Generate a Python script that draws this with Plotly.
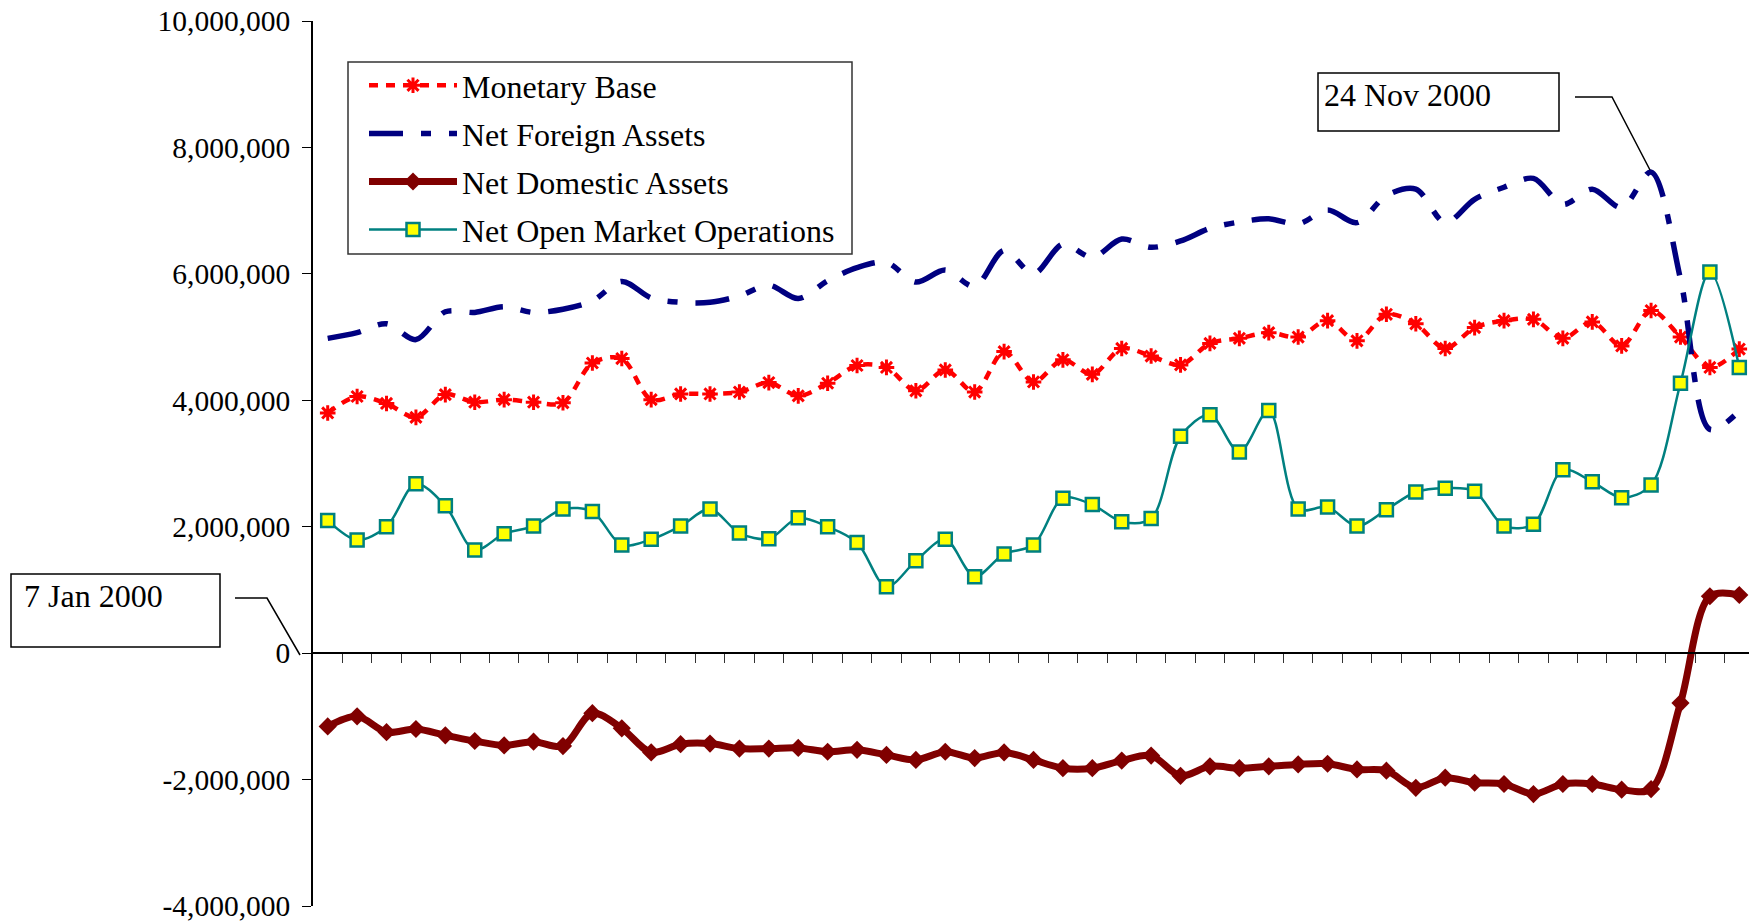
import plotly.graph_objects as go

# ---------------- data (weekly observations, 49 weeks) ----------------
weeks = list(range(49))

monetary_base = [3.80, 4.06, 3.95, 3.73, 4.09, 3.97, 4.01, 3.97, 3.96, 4.59,
                 4.66, 4.01, 4.10, 4.10, 4.13, 4.28, 4.07, 4.27, 4.55, 4.52,
                 4.15, 4.48, 4.13, 4.77, 4.29, 4.64, 4.41, 4.82, 4.70, 4.56,
                 4.90, 4.98, 5.07, 5.00, 5.26, 4.94, 5.36, 5.21, 4.82, 5.15,
                 5.26, 5.28, 4.98, 5.24, 4.86, 5.42, 5.00, 4.52, 4.81]

net_foreign_assets = [4.98, 5.07, 5.21, 4.96, 5.40, 5.39, 5.48, 5.39, 5.44, 5.57,
                      5.88, 5.62, 5.55, 5.55, 5.65, 5.82, 5.61, 5.89, 6.10, 6.18,
                      5.87, 6.06, 5.80, 6.37, 6.00, 6.47, 6.26, 6.55, 6.42, 6.52,
                      6.72, 6.82, 6.87, 6.79, 7.01, 6.81, 7.24, 7.34, 6.81, 7.18,
                      7.37, 7.51, 7.10, 7.34, 7.05, 7.61, 5.92, 3.54, 3.83]

net_domestic_assets = [-1.16, -1.00, -1.25, -1.20, -1.30, -1.39, -1.46, -1.40, -1.47, -0.95,
                       -1.19, -1.57, -1.44, -1.43, -1.51, -1.51, -1.50, -1.56, -1.53, -1.61,
                       -1.69, -1.56, -1.66, -1.57, -1.69, -1.82, -1.82, -1.70, -1.62, -1.94,
                       -1.79, -1.82, -1.79, -1.76, -1.75, -1.84, -1.86, -2.13, -1.97, -2.05,
                       -2.07, -2.23, -2.07, -2.07, -2.16, -2.15, -0.79, 0.90, 0.92]

net_open_market_operations = [2.10, 1.79, 2.00, 2.68, 2.33, 1.63, 1.89, 2.01, 2.28, 2.24,
                              1.71, 1.80, 2.01, 2.28, 1.90, 1.81, 2.14, 2.00, 1.75, 1.05,
                              1.46, 1.80, 1.21, 1.57, 1.71, 2.45, 2.35, 2.08, 2.13, 3.43,
                              3.77, 3.18, 3.84, 2.28, 2.31, 2.01, 2.27, 2.55, 2.61, 2.56,
                              2.01, 2.04, 2.90, 2.71, 2.46, 2.66, 4.27, 6.03, 4.52]

series_names = ["Monetary Base", "Net Foreign Assets", "Net Domestic Assets",
                "Net Open Market Operations"]

y_tick_values = [-4000000, -2000000, 0, 2000000, 4000000, 6000000, 8000000, 10000000]
y_tick_labels = ["-4,000,000", "-2,000,000", "0", "2,000,000", "4,000,000",
                 "6,000,000", "8,000,000", "10,000,000"]

callout_labels = ["24 Nov 2000", "7 Jan 2000"]

MILLION = 1_000_000
FONT = "Liberation Serif, Times New Roman, serif"

# ---------------- geometry helpers (pixel -> paper) ----------------
W, H = 1749, 922
ML, MR, MT, MB_ = 313, 0, 21, 16
PW = W - ML - MR
PH = H - MT - MB_


def px(x):
    return (x - ML) / PW


def py(y):
    return (H - MB_ - y) / PH


fig = go.Figure()

fig.add_trace(go.Scatter(
    x=weeks, y=[v * MILLION for v in monetary_base], name=series_names[0],
    mode="lines+markers", legendgroup="a",
    line=dict(color="#FF0000", width=4.5, dash="9px,8px", shape="spline", smoothing=0.9),
    marker=dict(symbol="asterisk-open", size=13, color="#FF0000",
                line=dict(color="#FF0000", width=3)),
))

fig.add_trace(go.Scatter(
    x=weeks, y=[v * MILLION for v in net_foreign_assets], name=series_names[1],
    mode="lines", legendgroup="b",
    line=dict(color="#000080", width=5.5, dash="34px,18px,10px,18px", shape="spline",
              smoothing=0.9),
))

fig.add_trace(go.Scatter(
    x=weeks, y=[v * MILLION for v in net_domestic_assets], name=series_names[2],
    mode="lines+markers", legendgroup="c",
    line=dict(color="#800000", width=7, shape="spline", smoothing=0.9),
    marker=dict(symbol="diamond", size=14, color="#800000"),
))

fig.add_trace(go.Scatter(
    x=weeks, y=[v * MILLION for v in net_open_market_operations], name=series_names[3],
    mode="lines+markers", legendgroup="d",
    line=dict(color="#008080", width=2.5, shape="spline", smoothing=0.9),
    marker=dict(symbol="square", size=13, color="#FFFF00",
                line=dict(color="#008080", width=2.5)),
))

n = len(weeks)
fig.update_xaxes(
    range=[-0.5, n - 0.5 - 5 / 29.4],
    anchor="free", position=4 / 14,
    showline=True, linecolor="black", linewidth=1.5,
    ticks="outside", ticklen=9, tickwidth=1, tickcolor="#333333",
    tickvals=[i + 0.5 for i in range(n - 1)],
    showticklabels=False, showgrid=False, zeroline=False,
)

fig.update_yaxes(
    range=[-4 * MILLION, 10 * MILLION],
    tickvals=y_tick_values, ticktext=y_tick_labels,
    ticks="outside", ticklen=9, tickwidth=1, tickcolor="black",
    ticklabelstandoff=6, ticklabeloverflow="allow",
    showline=True, linecolor="black", linewidth=1.5,
    showgrid=False, zeroline=False,
    tickfont=dict(family=FONT, size=29.5, color="black"),
)

shapes = [
    # legend frame
    dict(type="rect", xref="paper", yref="paper",
         x0=px(348), x1=px(852), y0=py(254), y1=py(62),
         line=dict(color="#333333", width=1.5), fillcolor="white", layer="below"),
    # callout boxes
    dict(type="rect", xref="paper", yref="paper",
         x0=px(1318), x1=px(1559), y0=py(131), y1=py(73),
         line=dict(color="black", width=1.5), fillcolor="white", layer="above"),
    dict(type="rect", xref="paper", yref="paper",
         x0=px(11), x1=px(220), y0=py(647), y1=py(574),
         line=dict(color="black", width=1.5), fillcolor="white", layer="above"),
    # leader lines
    dict(type="path", xref="paper", yref="paper",
         path=f"M {px(1575)},{py(97)} L {px(1612)},{py(97)} L {px(1650)},{py(170)}",
         line=dict(color="black", width=1.5), layer="above"),
    dict(type="path", xref="paper", yref="paper",
         path=f"M {px(235)},{py(598)} L {px(267)},{py(598)} L {px(300)},{py(655)}",
         line=dict(color="black", width=1.5), layer="above"),
]

annotations = [
    dict(xref="paper", yref="paper", x=px(1322), y=py(75), xanchor="left", yanchor="top",
         text=callout_labels[0], showarrow=False,
         font=dict(family=FONT, size=32, color="black")),
    dict(xref="paper", yref="paper", x=px(22), y=py(576), xanchor="left", yanchor="top",
         text=callout_labels[1], showarrow=False,
         font=dict(family=FONT, size=32, color="black")),
]

fig.update_layout(
    width=W, height=H,
    margin=dict(l=ML, r=MR, t=MT, b=MB_, pad=0),
    paper_bgcolor="white", plot_bgcolor="white",
    font=dict(family=FONT, size=28, color="black"),
    showlegend=True,
    legend=dict(
        x=px(364), y=py(58), xanchor="left", yanchor="top",
        bgcolor="rgba(0,0,0,0)", borderwidth=0,
        font=dict(family=FONT, size=32, color="black"),
        itemwidth=88, tracegroupgap=3.5, traceorder="grouped",
    ),
    shapes=shapes,
    annotations=annotations,
)

fig.write_html("out.html")
